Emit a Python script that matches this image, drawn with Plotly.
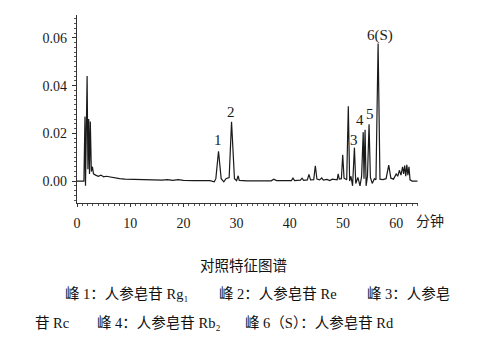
import plotly.graph_objects as go

# Digitized chromatogram vertices (retention time in min, absorbance)
time_min = [0, 1.3, 1.5, 1.6, 1.9, 2.05, 2.2, 2.35, 2.5, 2.7, 2.9, 3.1, 3.5, 4.0, 4.5, 5.0,
            5.5, 6.0, 7, 8, 9, 10, 11, 12, 12.3, 14, 16, 17, 18, 19, 20, 22, 25, 25.8,
            26.1, 26.6, 27.1, 27.6, 28.0, 28.6, 29.05, 29.6, 30.0, 30.3, 30.5, 32, 35,
            36.5, 37, 37.5, 39, 40.3, 40.6, 40.9, 42, 42.3, 42.6, 43.3, 43.6, 43.9, 44.5,
            44.8, 45.1, 45.6, 46, 46.3, 47, 47.5, 48, 48.5, 48.9, 49.1, 49.3, 49.7, 49.95,
            50.2, 50.7, 51.0, 51.25, 51.5, 51.8, 52.15, 52.4, 52.8, 53.2, 53.5, 53.8,
            53.95, 54.15, 54.35, 54.6, 54.9, 55.15, 55.5, 55.9, 56.2, 56.6, 56.95, 57.5,
            58.1, 58.6, 59.0, 59.5, 60.0, 60.3, 60.6, 60.9, 61.2, 61.4, 61.6, 61.8, 62.0,
            62.2, 62.4, 62.6, 63, 64]
absorbance = [0, 0, 0.027, -0.002, 0.044, 0.005, 0.026, 0.003, 0.025, 0.004, 0.006, 0.003,
              0.0025, 0.002, 0.0025, 0.0018, 0.002, 0.0018, 0.0012, 0.001, 0.0008, 0.0007,
              0.0006, 0.0008, 0.0005, 0.0005, 0.0004, 0.0006, 0.0003, 0.0006, 0.0003, 0.0002,
              0.0002, -0.0003, 0.001, 0.0125, 0.001, -0.0003, 0.001, 0.0015, 0.0248, 0.001,
              0.0002, 0.0022, 0.0003, 0.0001, 0.0002, 0.0001, 0.0008, 0.0002, 0.0002, 0.0002,
              0.0012, 0.0002, 0.0004, 0.0012, 0.0003, 0.0005, 0.0028, 0.0005, 0.0006, 0.0064,
              0.0008, 0.0005, 0.0013, 0.0004, 0.0007, 0.0002, 0.0008, 0.0005, 0.0005, 0.003,
              0.0008, 0.001, 0.011, 0.0012, 0.0005, 0.0314, 0.0, 0.002, -0.002, 0.014, -0.001,
              0.0015, -0.002, 0.002, 0.0205, 0.001, 0.0215, -0.002, 0.002, 0.0238, 0.0015,
              -0.001, 0.001, 0.0005, 0.0577, 0.0008, 0.0006, 0.001, 0.0067, 0.0012, 0.0008,
              0.003, 0.002, 0.0045, 0.0025, 0.006, 0.003, 0.0065, 0.002, 0.0068, 0.0025, 0.006,
              0.0005, 0.0, 0.0]

peak_labels = ["1", "2", "3", "4", "5", "6(S)"]
peak_label_pos = [(26.5, 0.0172), (28.9, 0.0289), (52.1, 0.0172), (53.2, 0.0256),
                  (55.1, 0.0281), (57.0, 0.0612)]

x_ticks = [0, 10, 20, 30, 40, 50, 60]
y_ticks = [0.0, 0.02, 0.04, 0.06]
y_tick_text = ["0.00", "0.02", "0.04", "0.06"]

caption_title = "对照特征图谱"
caption_segments = [
    ("峰 1：人参皂苷 Rg₁", 63, 294),
    ("峰 2：人参皂苷 Re", 217, 294),
    ("峰 3：人参皂", 365, 294),
    ("苷 Rc", 33, 323),
    ("峰 4：人参皂苷 Rb₂", 95, 323),
    ("峰 6（S）：人参皂苷 Rd", 243, 323),
]

W, H = 490, 343
L, R, T, B = 77, 418, 15, 203

serif = "Liberation Serif, Noto Sans CJK SC, serif"

fig = go.Figure()
fig.add_trace(go.Scatter(x=time_min, y=absorbance, mode="lines",
                         line=dict(color="#1a1a1a", width=1.2), hoverinfo="skip"))

for txt, (px, py) in zip(peak_labels, peak_label_pos):
    fig.add_annotation(x=px, y=py, text=txt, showarrow=False, xref="x", yref="y",
                       xanchor="center", yanchor="middle",
                       font=dict(family=serif, size=15, color="#1a1a1a"))

def pxx(v):
    return (v - L) / (R - L)

def pxy(v):
    return (B - v) / (B - T)

fig.add_annotation(x=pxx(430), y=pxy(221), xref="paper", yref="paper", text="分钟",
                   xanchor="center", yanchor="middle",
                   showarrow=False, font=dict(family=serif, size=14, color="#1a1a1a"))

fig.add_annotation(x=pxx(243), y=pxy(266), xref="paper", yref="paper", text=caption_title,
                   xanchor="center", yanchor="middle",
                   showarrow=False, font=dict(family=serif, size=14.5, color="#111"))
for txt, x0, yc in caption_segments:
    fig.add_annotation(x=pxx(x0), y=pxy(yc), xref="paper", yref="paper", text=txt,
                       xanchor="left", yanchor="middle", showarrow=False,
                       font=dict(family=serif, size=14.5, color="#111"))

fig.update_layout(
    width=W, height=H,
    margin=dict(l=L, r=W - R, t=T, b=H - B),
    paper_bgcolor="white", plot_bgcolor="white",
    showlegend=False,
    xaxis=dict(range=[0, 64.1], tickvals=x_ticks, showgrid=False, zeroline=False,
               showline=True, linecolor="#333", linewidth=1.2,
               ticks="outside", ticklen=3, tickcolor="#333",
               minor=dict(dtick=1, ticks="outside", ticklen=2, tickcolor="#555"),
               ticklabelstandoff=4,
               tickfont=dict(family=serif, size=14, color="#1a1a1a")),
    yaxis=dict(range=[-0.0092, 0.0696], tickvals=y_ticks, ticktext=y_tick_text,
               showgrid=False, zeroline=False,
               showline=True, linecolor="#333", linewidth=1.2,
               ticks="outside", ticklen=4, tickcolor="#333",
               minor=dict(dtick=0.002, ticks="outside", ticklen=2, tickcolor="#555"),
               ticklabelstandoff=2,
               tickfont=dict(family=serif, size=14, color="#1a1a1a")),
)

fig.write_html("out.html")
